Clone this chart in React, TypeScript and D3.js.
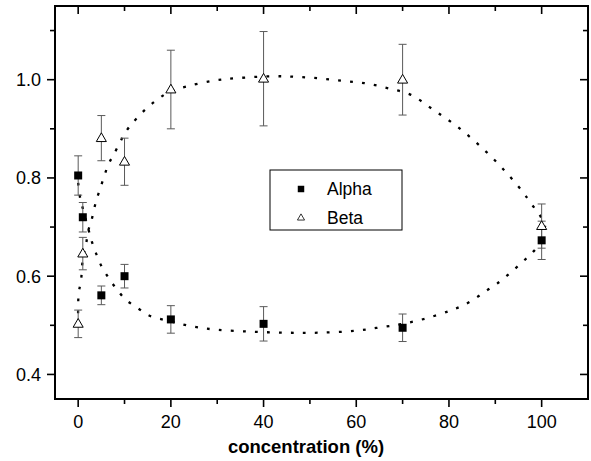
import React, { useEffect, useRef } from "react";
import * as d3 from "d3";

// measured points (concentration %)
const concentration = [0, 1, 5, 10, 20, 40, 70, 100];
const alphaValues = [0.805, 0.72, 0.561, 0.6, 0.512, 0.503, 0.495, 0.673];
const alphaErrors = [0.04, 0.03, 0.019, 0.024, 0.028, 0.035, 0.028, 0.039];
const betaValues = [0.503, 0.646, 0.881, 0.833, 0.98, 1.002, 1.0, 0.702];
const betaErrors = [0.028, 0.033, 0.046, 0.048, 0.08, 0.096, 0.072, 0.045];

// dotted fit curves
const alphaFitX = [0, 0.5, 1, 2, 3, 4, 5, 6.4, 8.2, 10.3, 13, 15.3, 20, 25, 30, 37.6, 45, 52, 60, 65.3, 70, 75, 80, 82.7, 85.4, 88, 90.4, 92.9, 95.4, 97.9, 100.5];
const alphaFitY = [0.79, 0.755, 0.738, 0.703, 0.669, 0.643, 0.621, 0.599, 0.575, 0.552, 0.534, 0.52, 0.508, 0.497, 0.491, 0.487, 0.485, 0.485, 0.489, 0.496, 0.503, 0.514, 0.529, 0.539, 0.553, 0.57, 0.585, 0.604, 0.625, 0.647, 0.675];
const betaFitX = [0, 0.1, 0.6, 1.0, 1.7, 2.2, 2.7, 3.3, 3.9, 4.7, 5.6, 6.5, 7.8, 10.5, 12.5, 14.9, 17.3, 19.8, 23.7, 29.1, 34.1, 41.7, 46.7, 51.7, 56.7, 61.7, 66.7, 71.8, 76.6, 81.6, 86.6, 91.5, 95.9, 97.7, 99.5, 100.8];
const betaFitY = [0.5, 0.565, 0.59, 0.635, 0.665, 0.694, 0.707, 0.731, 0.754, 0.777, 0.803, 0.827, 0.85, 0.897, 0.92, 0.943, 0.961, 0.976, 0.987, 0.998, 1.003, 1.007, 1.006, 1.003, 0.998, 0.993, 0.983, 0.969, 0.939, 0.906, 0.866, 0.82, 0.772, 0.748, 0.726, 0.7];

const xTicks = [0, 20, 40, 60, 80, 100];
const xMinor = [10, 30, 50, 70, 90];
const yTicks = [0.4, 0.6, 0.8, 1.0];
const yMinor = [0.5, 0.7, 0.9, 1.1];
const seriesNames = ["Alpha", "Beta"];

function App() {
    const svgRef = useRef<SVGSVGElement>(null);
    const width = 591;
    const height = 461;

    useEffect(() => {
        const svg = d3.select(svgRef.current);
        svg.selectAll("*").remove();

        const left = 55, right = 588, top = 6, bottom = 399;

        const x = d3.scaleLinear().domain([-5, 110]).range([left, right]);
        const y = d3.scaleLinear().domain([0.35, 1.15]).range([bottom, top]);

        const font = "Liberation Sans, Arial, sans-serif";

        const fitLine = d3.line<[number, number]>()
            .x(d => x(d[0]))
            .y(d => y(d[1]))
            .curve(d3.curveCatmullRom.alpha(0.5));

        const alphaFit: [number, number][] = alphaFitX.map((v, i) => [v, alphaFitY[i]]);
        const betaFit: [number, number][] = betaFitX.map((v, i) => [v, betaFitY[i]]);

        [alphaFit, betaFit].forEach(data => {
            svg.append("path")
                .datum(data)
                .attr("fill", "none")
                .attr("stroke", "#000")
                .attr("stroke-width", 2.3)
                .attr("stroke-dasharray", "2.8 9.2")
                .attr("d", fitLine);
        });

        // error bars
        const drawErrors = (vals: number[], errs: number[]) => {
            const g = svg.append("g").attr("stroke", "#5a5a5a").attr("stroke-width", 1);
            concentration.forEach((c, i) => {
                const cx = x(c);
                const y0 = y(vals[i] - errs[i]);
                const y1 = y(vals[i] + errs[i]);
                g.append("line").attr("x1", cx).attr("x2", cx).attr("y1", y0).attr("y2", y1);
                g.append("line").attr("x1", cx - 4).attr("x2", cx + 4).attr("y1", y0).attr("y2", y0);
                g.append("line").attr("x1", cx - 4).attr("x2", cx + 4).attr("y1", y1).attr("y2", y1);
            });
        };
        drawErrors(alphaValues, alphaErrors);
        drawErrors(betaValues, betaErrors);

        const square = d3.symbol().type(d3.symbolSquare).size(64);
        const triangle = d3.symbol().type(d3.symbolTriangle).size(44);

        concentration.forEach((c, i) => {
            svg.append("path")
                .attr("d", square()!)
                .attr("transform", `translate(${x(c)},${y(alphaValues[i])})`)
                .attr("fill", "#000");
            svg.append("path")
                .attr("d", triangle()!)
                .attr("transform", `translate(${x(c)},${y(betaValues[i]) + 0.5})`)
                .attr("fill", "#fff")
                .attr("stroke", "#000")
                .attr("stroke-width", 1);
        });

        // frame
        svg.append("rect")
            .attr("x", left).attr("y", top)
            .attr("width", right - left).attr("height", bottom - top)
            .attr("fill", "none").attr("stroke", "#000").attr("stroke-width", 2);

        const ticks = svg.append("g").attr("stroke", "#000").attr("stroke-width", 1.6);
        xTicks.concat(xMinor).forEach(t => {
            const len = xTicks.includes(t) ? 8 : 5;
            ticks.append("line").attr("x1", x(t)).attr("x2", x(t)).attr("y1", bottom).attr("y2", bottom + len);
            ticks.append("line").attr("x1", x(t)).attr("x2", x(t)).attr("y1", top).attr("y2", top + len);
        });
        yTicks.concat(yMinor).forEach(t => {
            const len = yTicks.includes(t) ? 8 : 5;
            ticks.append("line").attr("x1", left).attr("x2", left - len).attr("y1", y(t)).attr("y2", y(t));
            ticks.append("line").attr("x1", right).attr("x2", right - len).attr("y1", y(t)).attr("y2", y(t));
        });

        xTicks.forEach(t => {
            svg.append("text")
                .attr("x", x(t)).attr("y", 428)
                .attr("text-anchor", "middle")
                .attr("font-family", font).attr("font-size", 18)
                .text(d3.format("d")(t));
        });
        yTicks.forEach(t => {
            svg.append("text")
                .attr("x", 41).attr("y", y(t) + 6.5)
                .attr("text-anchor", "end")
                .attr("font-family", font).attr("font-size", 18)
                .text(d3.format(".1f")(t));
        });

        svg.append("text")
            .attr("x", 306).attr("y", 453)
            .attr("text-anchor", "middle")
            .attr("font-family", font).attr("font-size", 18.5).attr("font-weight", "bold")
            .text("concentration (%)");

        // legend
        const legend = svg.append("g");
        legend.append("rect")
            .attr("x", 270).attr("y", 170).attr("width", 132).attr("height", 60)
            .attr("fill", "#fff").attr("stroke", "#000").attr("stroke-width", 1);
        const legSquare = d3.symbol().type(d3.symbolSquare).size(42);
        const legTri = d3.symbol().type(d3.symbolTriangle).size(22);
        seriesNames.forEach((name, i) => {
            const ly = 189 + i * 29;
            legend.append("path")
                .attr("d", i === 0 ? legSquare()! : legTri()!)
                .attr("transform", `translate(301,${ly})`)
                .attr("fill", i === 0 ? "#000" : "#fff")
                .attr("stroke", i === 0 ? "none" : "#000")
                .attr("stroke-width", 0.8);
            legend.append("text")
                .attr("x", 327).attr("y", ly + 6)
                .attr("font-family", font).attr("font-size", 17.5)
                .text(name);
        });
    }, []);

    return (
        <svg ref={svgRef} width={width} height={height}
            style={{ position: "absolute", left: 0, top: 0, background: "#fff" }} />
    );
}

export default App;
